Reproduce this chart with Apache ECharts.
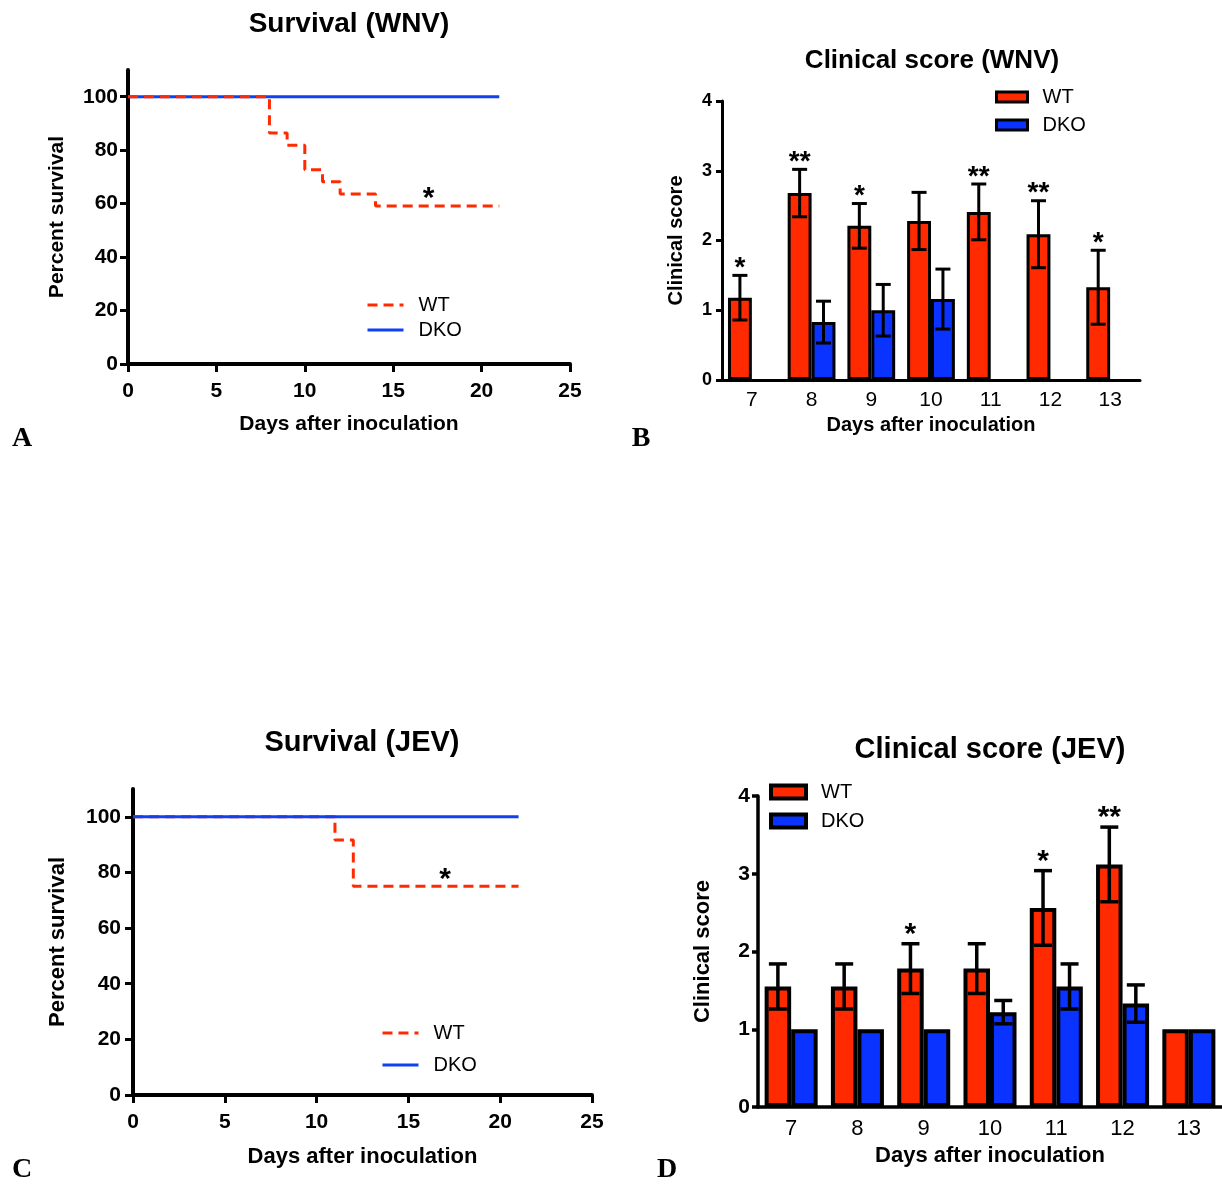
<!DOCTYPE html>
<html><head><meta charset="utf-8">
<script src="https://cdn.jsdelivr.net/npm/echarts@6/dist/echarts.min.js"></script>
<style>
html,body{margin:0;padding:0;background:#fff;width:1222px;height:1187px;overflow:hidden;position:relative}
.p{position:absolute}
</style></head><body>
<div id="a" class="p" style="left:0;top:0;width:611px;height:470px"></div>
<div id="b" class="p" style="left:611px;top:0;width:611px;height:470px"></div>
<div id="c" class="p" style="left:0;top:690px;width:611px;height:497px"></div>
<div id="d" class="p" style="left:611px;top:690px;width:611px;height:497px"></div>
<script>
// ---------- data ----------
const survivalXTicks = [0, 5, 10, 15, 20, 25];
const survivalYTicks = [0, 20, 40, 60, 80, 100];

const wnvWTDays = [0, 8, 9, 10, 11, 12, 14, 21];
const wnvWT     = [100, 86.4, 81.8, 72.7, 68.2, 63.6, 59.1, 59.1];
const wnvDKODays = [0, 21];
const wnvDKO     = [100, 100];
const wnvSurvStar = [17, 59.1];

const jevWTDays = [0, 11, 12, 21];
const jevWT     = [100, 91.7, 75, 75];
const jevDKODays = [0, 21];
const jevDKO     = [100, 100];
const jevSurvStar = [17, 75];

const scoreDays = ['7', '8', '9', '10', '11', '12', '13'];
const scoreYTicks = [0, 1, 2, 3, 4];

const wnvScoreWT     = [1.18, 2.68, 2.21, 2.28, 2.41, 2.09, 1.33];
const wnvScoreWTErr  = [0.32, 0.34, 0.32, 0.41, 0.40, 0.48, 0.53];
const wnvScoreDKO    = [null, 0.83, 1.00, 1.16, null, null, null];
const wnvScoreDKOErr = [null, 0.30, 0.37, 0.43, null, null, null];
const wnvScoreStars  = ['*', '**', '*', '', '**', '**', '*'];

const jevScoreWT     = [1.55, 1.55, 1.78, 1.78, 2.56, 3.12, 1.00];
const jevScoreWTErr  = [0.29, 0.29, 0.32, 0.32, 0.48, 0.48, null];
const jevScoreDKO    = [1.00, 1.00, 1.00, 1.22, 1.55, 1.33, 1.00];
const jevScoreDKOErr = [null, null, null, 0.15, 0.29, 0.24, null];
const jevScoreStars  = ['', '', '*', '', '*', '**', ''];

// ---------- style ----------
const FF = '"Liberation Sans", Arial, Helvetica, sans-serif';
const SERIF = '"Liberation Serif", "Times New Roman", serif';
const RED = '#ff2a00';
const BLUE = '#0a33ff';
const LINEBLUE = '#1040f0';

function pair(xs, ys) { return xs.map((x, i) => [x, ys[i]]); }

function survivalOption(c) {
  return {
    animation: false,
    grid: { left: c.gl, top: c.gt, width: c.gw, height: c.gh },
    xAxis: {
      type: 'value', min: 0, max: 25, interval: 5,
      axisLine: { lineStyle: { color: '#000', width: 4 } },
      axisTick: { show: true, length: 8, customValues: survivalXTicks, lineStyle: { color: '#000', width: 3 } },
      axisLabel: { customValues: survivalXTicks, color: '#000', fontFamily: FF, fontWeight: 'bold', fontSize: c.tickFs, margin: c.xMargin },
      splitLine: { show: false },
      name: 'Days after inoculation', nameLocation: 'middle', nameGap: c.xNameGap,
      nameTextStyle: { color: '#000', fontFamily: FF, fontWeight: 'bold', fontSize: c.nameFs }
    },
    yAxis: {
      type: 'value', min: 0, max: 110, interval: 20,
      axisLine: { show: true, lineStyle: { color: '#000', width: 4 } },
      axisTick: { show: true, length: 8, customValues: survivalYTicks, lineStyle: { color: '#000', width: 3 } },
      axisLabel: { customValues: survivalYTicks, color: '#000', fontFamily: FF, fontWeight: 'bold', fontSize: c.tickFs, margin: c.yMargin },
      splitLine: { show: false },
      name: 'Percent survival', nameLocation: 'middle', nameGap: c.yNameGap,
      nameTextStyle: { color: '#000', fontFamily: FF, fontWeight: 'bold', fontSize: c.nameFs }
    },
    legend: {
      data: ['WT', 'DKO'], orient: 'vertical', left: c.legLeft, top: c.legTop,
      itemWidth: 36, itemHeight: 14, itemGap: c.legGap,
      itemStyle: { opacity: 0 },
      lineStyle: { width: 3 },
      textStyle: { color: '#000', fontFamily: FF, fontSize: 20, padding: [0, 0, 0, 10] },
      selectedMode: false
    },
    graphic: [
      { type: 'text', x: c.titleX, y: c.titleY, style: { text: c.title, fontFamily: FF, fontWeight: 'bold', fontSize: c.titleFs, fill: '#000', align: 'center', verticalAlign: 'middle' } },
      { type: 'text', x: c.letX, y: c.letY, style: { text: c.letter, fontFamily: SERIF, fontWeight: 'bold', fontSize: 28, fill: '#000', align: 'center', verticalAlign: 'middle' } }
    ],
    series: c.series
  };
}

function survSeries(wtDays, wt, dkoDays, dko, star, wtOnTop, starOff) {
  const dkoS = { name: 'DKO', type: 'line', symbol: 'none', showSymbol: false, data: pair(dkoDays, dko),
    lineStyle: { color: LINEBLUE, width: 3 }, itemStyle: { color: LINEBLUE }, z: wtOnTop ? 2 : 4 };
  const wtS = { name: 'WT', type: 'line', step: 'end', symbol: 'none', showSymbol: false, data: pair(wtDays, wt),
    lineStyle: { color: RED, width: 3, type: [10, 6] }, itemStyle: { color: RED }, z: 3 };
  const starS = { name: 'sig', type: 'custom', z: 6, data: [star], encode: { x: 0, y: 1 },
    renderItem: function (params, api) {
      const p = api.coord([api.value(0), api.value(1)]);
      return { type: 'text', x: p[0], y: p[1] + starOff,
        style: { text: '*', fontFamily: FF, fontWeight: 'bold', fontSize: 30, fill: '#000', align: 'center', verticalAlign: 'bottom' } };
    } };
  return [dkoS, wtS, starS];
}

function errData(vals, errs) {
  const out = [];
  vals.forEach((v, i) => { if (v != null && errs[i] != null) out.push([i, v - errs[i], v + errs[i]]); });
  return out;
}

function scoreOption(c) {
  const gapFrac = 0.8;
  function errSeries(vals, errs, sign) {
    return {
      type: 'custom', z: 5, data: errData(vals, errs), encode: { x: 0, y: [1, 2] },
      renderItem: function (params, api) {
        const i = api.value(0), lo = api.value(1), hi = api.value(2);
        const band = api.size([1, 0])[0];
        const bw = band * gapFrac / 2;
        const pLo = api.coord([i, lo]), pHi = api.coord([i, hi]);
        const cx = pLo[0] + sign * bw / 2;
        const cap = c.cap;
        const st = { stroke: '#000', lineWidth: c.errW };
        return { type: 'group', children: [
          { type: 'line', shape: { x1: cx, y1: pLo[1], x2: cx, y2: pHi[1] }, style: st },
          { type: 'line', shape: { x1: cx - cap, y1: pHi[1], x2: cx + cap, y2: pHi[1] }, style: st },
          { type: 'line', shape: { x1: cx - cap, y1: pLo[1], x2: cx + cap, y2: pLo[1] }, style: st }
        ] };
      }
    };
  }
  const starData = [];
  c.wt.forEach((v, i) => { if (c.stars[i]) starData.push([i, v + (c.wtErr[i] || 0)]); });
  const starSeries = {
    type: 'custom', z: 6, data: starData, encode: { x: 0, y: 1 },
    renderItem: function (params, api) {
      const i = api.value(0), top = api.value(1);
      const band = api.size([1, 0])[0];
      const bw = band * gapFrac / 2;
      const p = api.coord([i, top]);
      return { type: 'text', x: p[0] - bw / 2, y: p[1] + c.starOff,
        style: { text: c.stars[i], fontFamily: FF, fontWeight: 'bold', fontSize: c.starFs, fill: '#000', align: 'center', verticalAlign: 'bottom' } };
    }
  };
  return {
    animation: false,
    grid: { left: c.gl, top: c.gt, width: c.gw, height: c.gh },
    xAxis: {
      type: 'category', data: scoreDays,
      axisLine: { lineStyle: { color: '#000', width: c.axW } },
      axisTick: { show: false },
      axisLabel: { color: '#000', fontFamily: FF, fontSize: c.catFs, margin: c.xMargin },
      name: 'Days after inoculation', nameLocation: 'middle', nameGap: c.xNameGap,
      nameTextStyle: { color: '#000', fontFamily: FF, fontWeight: 'bold', fontSize: c.nameFs }
    },
    yAxis: {
      type: 'value', min: 0, max: 4, interval: 1,
      axisLine: { show: true, lineStyle: { color: '#000', width: c.axW } },
      axisTick: { show: true, length: 6, lineStyle: { color: '#000', width: c.axW } },
      axisLabel: { color: '#000', fontFamily: FF, fontWeight: 'bold', fontSize: c.yFs, margin: c.yMargin },
      splitLine: { show: false },
      name: 'Clinical score', nameLocation: 'middle', nameGap: c.yNameGap,
      nameTextStyle: { color: '#000', fontFamily: FF, fontWeight: 'bold', fontSize: c.nameFs }
    },
    legend: {
      data: ['WT', 'DKO'], orient: 'vertical', left: c.legLeft, top: c.legTop, icon: 'rect',
      itemWidth: c.legW, itemHeight: c.legH, itemGap: c.legGap,
      itemStyle: { borderColor: '#000', borderWidth: c.bw },
      textStyle: { color: '#000', fontFamily: FF, fontSize: 20, padding: [0, 0, 0, 10] },
      selectedMode: false
    },
    graphic: [
      { type: 'text', x: c.titleX, y: c.titleY, style: { text: c.title, fontFamily: FF, fontWeight: 'bold', fontSize: c.titleFs, fill: '#000', align: 'center', verticalAlign: 'middle' } },
      { type: 'text', x: c.letX, y: c.letY, style: { text: c.letter, fontFamily: SERIF, fontWeight: 'bold', fontSize: 28, fill: '#000', align: 'center', verticalAlign: 'middle' } }
    ],
    series: [
      { name: 'WT', type: 'bar', data: c.wt, barGap: '0%', barCategoryGap: '20%',
        itemStyle: { color: RED, borderColor: '#000', borderWidth: c.bw } },
      { name: 'DKO', type: 'bar', data: c.dko, barGap: '0%', barCategoryGap: '20%',
        itemStyle: { color: BLUE, borderColor: '#000', borderWidth: c.bw } },
      errSeries(c.wt, c.wtErr, -1),
      errSeries(c.dko, c.dkoErr, 1),
      starSeries
    ]
  };
}

// ---------- panel A ----------
echarts.init(document.getElementById('a'), null, { renderer: 'canvas' }).setOption(survivalOption({
  gl: 128, gt: 70, gw: 442, gh: 294, tickFs: 21, nameFs: 21, xMargin: 17, yMargin: 10,
  xNameGap: 50, yNameGap: 60, legLeft: 361, legTop: 290, legGap: 5,
  title: 'Survival (WNV)', titleX: 349, titleY: 24, titleFs: 28, letter: 'A', letX: 22, letY: 439,
  series: survSeries(wnvWTDays, wnvWT, wnvDKODays, wnvDKO, wnvSurvStar, true, 8)
}));

// ---------- panel C ----------
echarts.init(document.getElementById('c'), null, { renderer: 'canvas' }).setOption(survivalOption({
  gl: 133, gt: 99, gw: 459, gh: 306, tickFs: 21, nameFs: 22, xMargin: 17, yMargin: 12,
  xNameGap: 51, yNameGap: 64, legLeft: 376, legTop: 328, legGap: 12,
  title: 'Survival (JEV)', titleX: 362, titleY: 53, titleFs: 29, letter: 'C', letX: 22, letY: 480,
  series: survSeries(jevWTDays, jevWT, jevDKODays, jevDKO, jevSurvStar, false, 8)
}));

// ---------- panel B ----------
echarts.init(document.getElementById('b'), null, { renderer: 'canvas' }).setOption(scoreOption({
  gl: 111, gt: 101, gw: 418, gh: 279, axW: 3, bw: 3, errW: 3, cap: 7.5,
  catFs: 21, yFs: 18, nameFs: 20, xMargin: 10, yMargin: 10, xNameGap: 32, yNameGap: 36,
  legLeft: 379, legTop: 82, legW: 31, legH: 10, legGap: 8,
  title: 'Clinical score (WNV)', titleX: 321, titleY: 61, titleFs: 26, letter: 'B', letX: 30, letY: 439,
  wt: wnvScoreWT, wtErr: wnvScoreWTErr, dko: wnvScoreDKO, dkoErr: wnvScoreDKOErr, stars: wnvScoreStars,
  starFs: 28, starOff: 7
}));

// ---------- panel D ----------
echarts.init(document.getElementById('d'), null, { renderer: 'canvas' }).setOption(scoreOption({
  gl: 147, gt: 106, gw: 464, gh: 311, axW: 3.5, bw: 4, errW: 3.5, cap: 9,
  catFs: 22, yFs: 21, nameFs: 22, xMargin: 11, yMargin: 8, xNameGap: 36, yNameGap: 44,
  legLeft: 153, legTop: 87, legW: 35, legH: 13, legGap: 9,
  title: 'Clinical score (JEV)', titleX: 379, titleY: 60, titleFs: 29, letter: 'D', letX: 56, letY: 480,
  wt: jevScoreWT, wtErr: jevScoreWTErr, dko: jevScoreDKO, dkoErr: jevScoreDKOErr, stars: jevScoreStars,
  starFs: 30, starOff: 6
}));
</script>
</body></html>
